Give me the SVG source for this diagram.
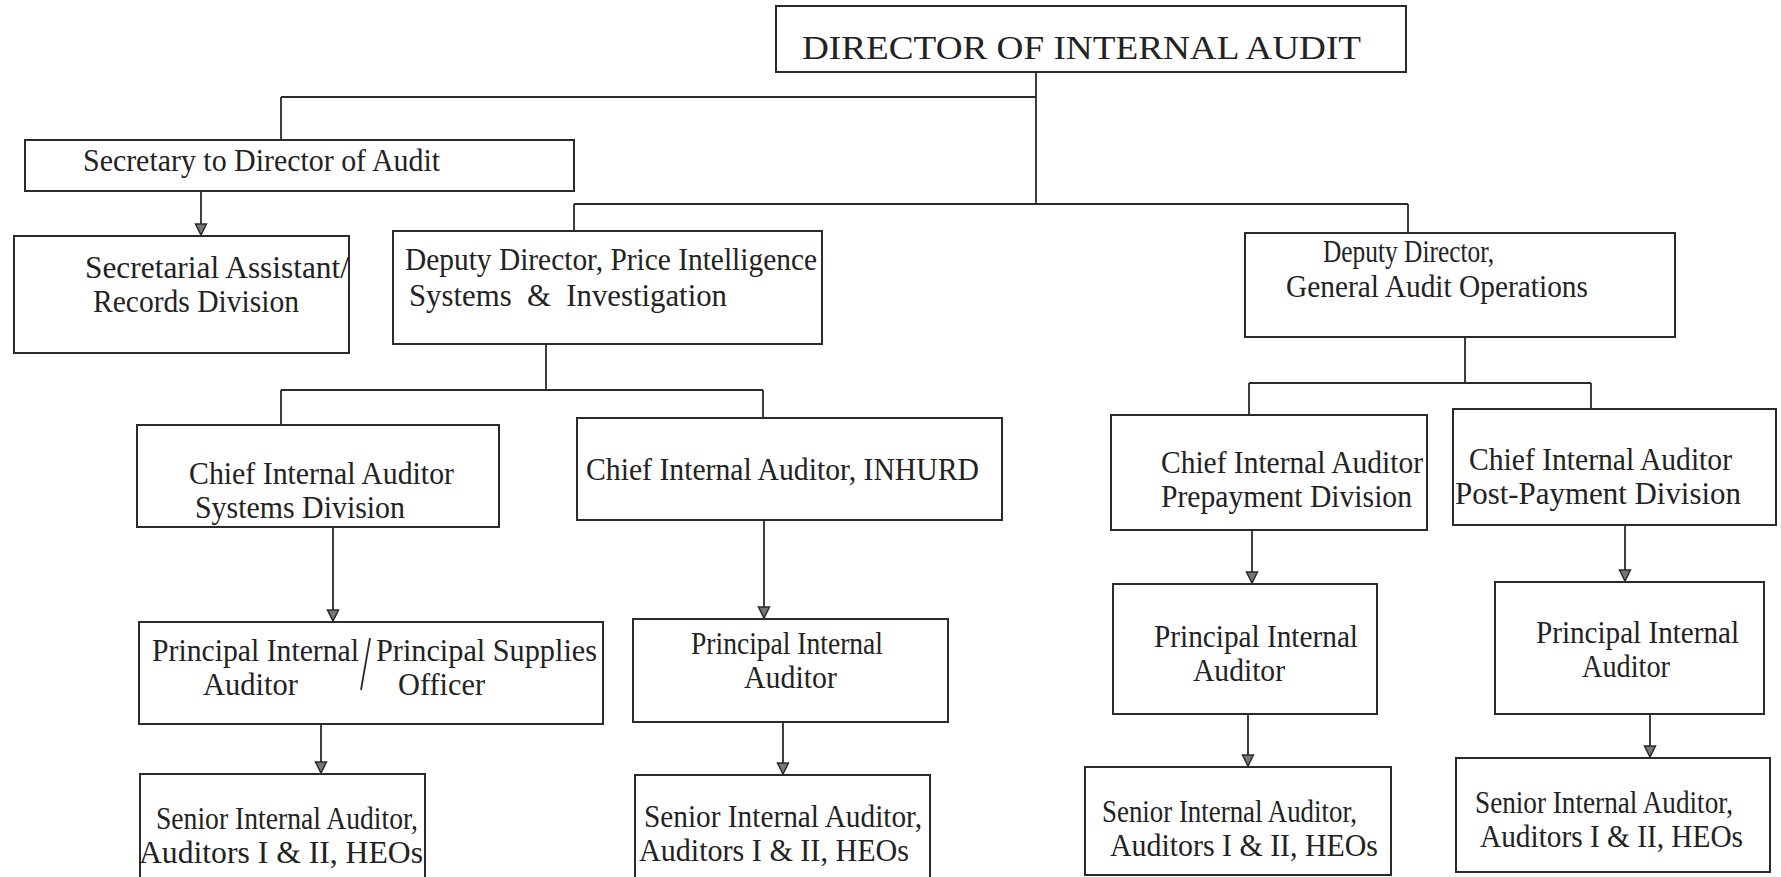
<svg xmlns="http://www.w3.org/2000/svg" width="1781" height="877" viewBox="0 0 1781 877">
<style>
.box{fill:#fff;stroke:#2b2b2b;stroke-width:2}
.c{fill:none;stroke:#2b2b2b;stroke-width:1.8}
text{font-family:"Liberation Serif","Times New Roman",serif;font-size:31px;fill:#222}
.t{font-size:34px}
</style>
<defs>
<marker id="ah" markerUnits="userSpaceOnUse" markerWidth="14" markerHeight="14" viewBox="0 0 14 14" refX="12" refY="7" orient="auto">
<path d="M1,1.5 L12,7 L1,12.5 Z" fill="#777" stroke="#2b2b2b" stroke-width="1.5"/>
</marker>
</defs>
<rect width="1781" height="877" fill="#fff"/>
<g id="connectors">
<path class="c" d="M1036,72 V204 M281,97 H1036 M281,97 V140 M574,204 H1408 M574,204 V231 M1408,204 V233"/>
<path class="c" d="M546,344 V390 M281,390 H763 M281,390 V425 M763,390 V418"/>
<path class="c" d="M1465,337 V383 M1249,383 H1591 M1249,383 V415 M1591,383 V409"/>
<line class="c" x1="201" y1="191" x2="201" y2="235" marker-end="url(#ah)"/>
<line class="c" x1="333" y1="527" x2="333" y2="621" marker-end="url(#ah)"/>
<line class="c" x1="764" y1="520" x2="764" y2="618" marker-end="url(#ah)"/>
<line class="c" x1="321" y1="724" x2="321" y2="773" marker-end="url(#ah)"/>
<line class="c" x1="783" y1="722" x2="783" y2="774" marker-end="url(#ah)"/>
<line class="c" x1="1252" y1="530" x2="1252" y2="583" marker-end="url(#ah)"/>
<line class="c" x1="1625" y1="525" x2="1625" y2="581" marker-end="url(#ah)"/>
<line class="c" x1="1248" y1="714" x2="1248" y2="766" marker-end="url(#ah)"/>
<line class="c" x1="1650" y1="714" x2="1650" y2="757" marker-end="url(#ah)"/>
</g>
<g id="director"><rect class="box" x="776" y="6" width="630" height="66"/>
<text class="t" x="802" y="59" textLength="559" lengthAdjust="spacingAndGlyphs">DIRECTOR OF INTERNAL AUDIT</text></g>
<g id="secretary"><rect class="box" x="25" y="140" width="549" height="51"/>
<text x="83" y="171" textLength="357" lengthAdjust="spacingAndGlyphs">Secretary to Director of Audit</text></g>
<g id="sec-assistant"><rect class="box" x="14" y="236" width="335" height="117"/>
<text x="85" y="278" textLength="264" lengthAdjust="spacingAndGlyphs">Secretarial Assistant/</text>
<text x="93" y="312" textLength="206" lengthAdjust="spacingAndGlyphs">Records Division</text></g>
<g id="dd-pi"><rect class="box" x="393" y="231" width="429" height="113"/>
<text x="405" y="270" textLength="412" lengthAdjust="spacingAndGlyphs">Deputy Director, Price Intelligence</text>
<text x="409" y="306" textLength="318" lengthAdjust="spacingAndGlyphs" xml:space="preserve">Systems  &amp;  Investigation</text></g>
<g id="dd-gao"><rect class="box" x="1245" y="233" width="430" height="104"/>
<text x="1323" y="262" textLength="171" lengthAdjust="spacingAndGlyphs">Deputy Director,</text>
<text x="1286" y="297" textLength="302" lengthAdjust="spacingAndGlyphs">General Audit Operations</text></g>
<g id="chief-systems"><rect class="box" x="137" y="425" width="362" height="102"/>
<text x="189" y="484" textLength="265" lengthAdjust="spacingAndGlyphs">Chief Internal Auditor</text>
<text x="195" y="518" textLength="210" lengthAdjust="spacingAndGlyphs">Systems Division</text></g>
<g id="chief-inhurd"><rect class="box" x="577" y="418" width="425" height="102"/>
<text x="586" y="480" textLength="393" lengthAdjust="spacingAndGlyphs">Chief Internal Auditor, INHURD</text></g>
<g id="principal-systems"><rect class="box" x="139" y="622" width="464" height="102"/>
<text x="152" y="661" textLength="207" lengthAdjust="spacingAndGlyphs">Principal Internal</text>
<text x="376" y="661" textLength="221" lengthAdjust="spacingAndGlyphs">Principal Supplies</text>
<line x1="370" y1="638" x2="361" y2="690" stroke="#2b2b2b" stroke-width="1.8"/>
<text x="203" y="695" textLength="95" lengthAdjust="spacingAndGlyphs">Auditor</text>
<text x="398" y="695" textLength="87" lengthAdjust="spacingAndGlyphs">Officer</text></g>
<g id="principal-inhurd"><rect class="box" x="633" y="619" width="315" height="103"/>
<text x="691" y="654" textLength="192" lengthAdjust="spacingAndGlyphs">Principal Internal</text>
<text x="744" y="688" textLength="93" lengthAdjust="spacingAndGlyphs">Auditor</text></g>
<g id="senior-1"><rect class="box" x="140" y="774" width="285" height="112"/>
<text x="156" y="829" textLength="262" lengthAdjust="spacingAndGlyphs">Senior Internal Auditor,</text>
<text x="139" y="863" textLength="284" lengthAdjust="spacingAndGlyphs">Auditors I &amp; II, HEOs</text></g>
<g id="senior-2"><rect class="box" x="635" y="775" width="295" height="111"/>
<text x="644" y="827" textLength="278" lengthAdjust="spacingAndGlyphs">Senior Internal Auditor,</text>
<text x="639" y="861" textLength="270" lengthAdjust="spacingAndGlyphs">Auditors I &amp; II, HEOs</text></g>
<g id="chief-prepayment"><rect class="box" x="1111" y="415" width="316" height="115"/>
<text x="1161" y="473" textLength="262" lengthAdjust="spacingAndGlyphs">Chief Internal Auditor</text>
<text x="1161" y="507" textLength="251" lengthAdjust="spacingAndGlyphs">Prepayment Division</text></g>
<g id="chief-postpayment"><rect class="box" x="1453" y="409" width="323" height="116"/>
<text x="1469" y="470" textLength="263" lengthAdjust="spacingAndGlyphs">Chief Internal Auditor</text>
<text x="1455" y="504" textLength="286" lengthAdjust="spacingAndGlyphs">Post-Payment Division</text></g>
<g id="principal-prepayment"><rect class="box" x="1113" y="584" width="264" height="130"/>
<text x="1154" y="647" textLength="204" lengthAdjust="spacingAndGlyphs">Principal Internal</text>
<text x="1193" y="681" textLength="92" lengthAdjust="spacingAndGlyphs">Auditor</text></g>
<g id="principal-postpayment"><rect class="box" x="1495" y="582" width="269" height="132"/>
<text x="1536" y="643" textLength="203" lengthAdjust="spacingAndGlyphs">Principal Internal</text>
<text x="1582" y="677" textLength="88" lengthAdjust="spacingAndGlyphs">Auditor</text></g>
<g id="senior-3"><rect class="box" x="1085" y="767" width="306" height="108"/>
<text x="1102" y="822" textLength="255" lengthAdjust="spacingAndGlyphs">Senior Internal Auditor,</text>
<text x="1110" y="856" textLength="268" lengthAdjust="spacingAndGlyphs">Auditors I &amp; II, HEOs</text></g>
<g id="senior-4"><rect class="box" x="1456" y="758" width="314" height="114"/>
<text x="1475" y="813" textLength="258" lengthAdjust="spacingAndGlyphs">Senior Internal Auditor,</text>
<text x="1480" y="847" textLength="263" lengthAdjust="spacingAndGlyphs">Auditors I &amp; II, HEOs</text></g>
</svg>
